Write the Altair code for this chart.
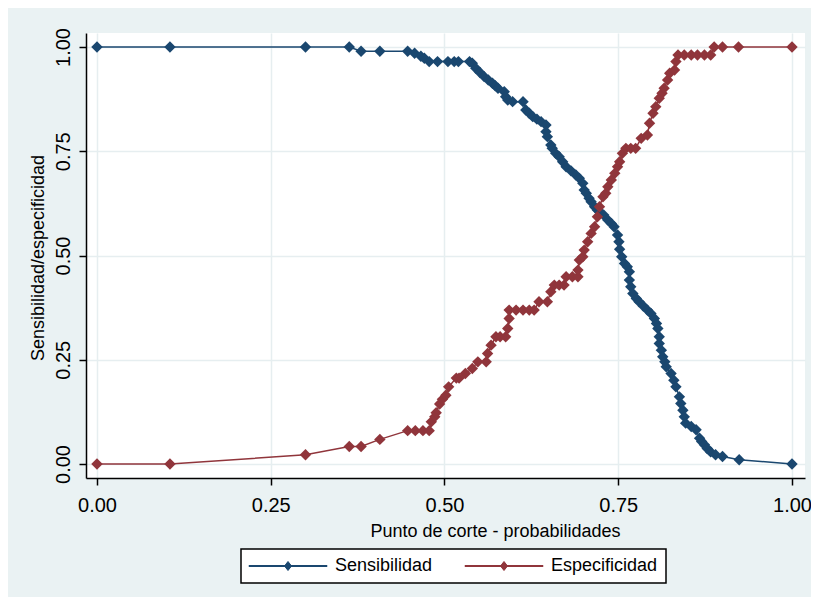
import altair as alt
import pandas as pd

# Sensibilidad: punto de corte (x) y valor (y)
sens_x = [0.000, 0.105, 0.300, 0.363, 0.380, 0.407, 0.447, 0.457, 0.466, 0.471,
          0.478, 0.490, 0.505, 0.514, 0.520, 0.536, 0.540, 0.545, 0.551, 0.557,
          0.563, 0.569, 0.573, 0.577, 0.586, 0.588, 0.591, 0.598, 0.613, 0.617,
          0.622, 0.627, 0.633, 0.639, 0.646, 0.646, 0.648, 0.653, 0.655, 0.660,
          0.665, 0.670, 0.675, 0.682, 0.689, 0.694, 0.699, 0.701, 0.704, 0.708,
          0.711, 0.716, 0.720, 0.723, 0.729, 0.735, 0.740, 0.744, 0.749, 0.751,
          0.752, 0.755, 0.759, 0.763, 0.766, 0.766, 0.768, 0.771, 0.776, 0.780,
          0.786, 0.792, 0.797, 0.802, 0.805, 0.807, 0.809, 0.809, 0.812, 0.814,
          0.817, 0.819, 0.826, 0.830, 0.833, 0.838, 0.840, 0.843, 0.845, 0.847,
          0.855, 0.862, 0.867, 0.870, 0.874, 0.878, 0.883, 0.890, 0.900, 0.924,
          1.000]
sens_y = [1.000, 1.000, 1.000, 1.000, 0.990, 0.990, 0.990, 0.985, 0.978, 0.973,
          0.965, 0.965, 0.965, 0.965, 0.965, 0.965, 0.961, 0.949, 0.939, 0.929,
          0.921, 0.913, 0.907, 0.901, 0.893, 0.881, 0.873, 0.869, 0.869, 0.849,
          0.841, 0.833, 0.827, 0.821, 0.813, 0.797, 0.785, 0.765, 0.757, 0.745,
          0.737, 0.725, 0.713, 0.703, 0.693, 0.685, 0.673, 0.657, 0.649, 0.637,
          0.629, 0.617, 0.609, 0.605, 0.597, 0.585, 0.577, 0.569, 0.549, 0.533,
          0.515, 0.497, 0.481, 0.473, 0.461, 0.441, 0.425, 0.409, 0.397, 0.389,
          0.379, 0.369, 0.361, 0.349, 0.337, 0.325, 0.305, 0.289, 0.273, 0.257,
          0.245, 0.233, 0.217, 0.201, 0.185, 0.161, 0.145, 0.129, 0.113, 0.098,
          0.090, 0.082, 0.062, 0.054, 0.046, 0.037, 0.029, 0.022, 0.018, 0.010,
          0.000]

# Especificidad
spec_x = [0.000, 0.105, 0.300, 0.363, 0.380, 0.407, 0.447, 0.458, 0.469, 0.478,
          0.481, 0.486, 0.488, 0.493, 0.497, 0.502, 0.506, 0.517, 0.521, 0.530,
          0.540, 0.548, 0.560, 0.562, 0.567, 0.574, 0.580, 0.588, 0.591, 0.593,
          0.593, 0.603, 0.613, 0.622, 0.629, 0.636, 0.648, 0.653, 0.658, 0.665,
          0.672, 0.675, 0.684, 0.692, 0.692, 0.694, 0.699, 0.701, 0.706, 0.711,
          0.716, 0.720, 0.723, 0.728, 0.732, 0.735, 0.740, 0.745, 0.749, 0.752,
          0.756, 0.761, 0.768, 0.775, 0.783, 0.792, 0.795, 0.800, 0.804, 0.809,
          0.813, 0.816, 0.821, 0.824, 0.831, 0.833, 0.836, 0.845, 0.855, 0.864,
          0.874, 0.883, 0.888, 0.900, 0.923, 1.000]
spec_y = [0.000, 0.000, 0.022, 0.042, 0.042, 0.059, 0.080, 0.080, 0.080, 0.080,
          0.101, 0.113, 0.123, 0.144, 0.155, 0.165, 0.185, 0.206, 0.206, 0.217,
          0.229, 0.245, 0.245, 0.265, 0.285, 0.305, 0.305, 0.305, 0.325, 0.349,
          0.369, 0.369, 0.369, 0.369, 0.369, 0.389, 0.389, 0.413, 0.429, 0.429,
          0.429, 0.449, 0.449, 0.449, 0.465, 0.489, 0.497, 0.513, 0.533, 0.553,
          0.569, 0.593, 0.617, 0.641, 0.649, 0.665, 0.681, 0.697, 0.713, 0.725,
          0.745, 0.757, 0.757, 0.757, 0.781, 0.789, 0.817, 0.841, 0.857, 0.877,
          0.889, 0.901, 0.921, 0.937, 0.945, 0.965, 0.981, 0.981, 0.981, 0.981,
          0.981, 0.981, 1.000, 1.000, 1.000, 1.000]

series_names = ["Sensibilidad", "Especificidad"]
series_colors = ["#1a476f", "#90353b"]
tick_values = [0.0, 0.25, 0.5, 0.75, 1.0]

rows = []
for i, (x, y) in enumerate(zip(sens_x, sens_y)):
    rows.append({"serie": series_names[0], "x": x, "y": y, "ord": i})
for i, (x, y) in enumerate(zip(spec_x, spec_y)):
    rows.append({"serie": series_names[1], "x": x, "y": y, "ord": i})
df = pd.DataFrame(rows)

FONT = "Liberation Sans, Arial, sans-serif"
PLOT_LEFT = 86  # absolute x of the plot's left edge

x_enc = alt.X(
    "x:Q",
    scale=alt.Scale(domain=[-0.0158, 1.0187], nice=False, zero=False),
    axis=alt.Axis(
        values=tick_values, format=".2f", title="Punto de corte - probabilidades",
        labelFontSize=20, labelFont=FONT, labelColor="#000000", labelPadding=10,
        labelFlush=False,
        tickSize=7, tickColor="#000000", tickWidth=1.5,
        domainColor="#000000", domainWidth=1.5,
        grid=True, gridColor="#e6eef0", gridWidth=1.5,
        titleFontSize=18, titleFont=FONT, titleFontWeight="normal", titleColor="#000000",
        titleX=495 - PLOT_LEFT, titleY=58, titleAlign="center", titleBaseline="alphabetic",
    ),
)
y_enc = alt.Y(
    "y:Q",
    scale=alt.Scale(domain=[-0.0336, 1.0336], nice=False, zero=False),
    axis=alt.Axis(
        values=tick_values, format=".2f", title="Sensibilidad/especificidad",
        labelFontSize=20, labelFont=FONT, labelColor="#000000", labelPadding=10,
        labelAngle=270, labelAlign="center", labelBaseline="alphabetic", labelFlush=False,
        tickSize=7, tickColor="#000000", tickWidth=1.5,
        domainColor="#000000", domainWidth=1.5,
        grid=True, gridColor="#e6eef0", gridWidth=1.5,
        titleFontSize=18, titleFont=FONT, titleFontWeight="normal", titleColor="#000000",
        titleAngle=270, titleX=38 - PLOT_LEFT, titleY=224.5, titleAlign="center",
        titleBaseline="middle",
    ),
)

# line segment + diamond, drawn mostly to the right of the nominal symbol box
legend_symbol = "M-1.8,-0.1H13.8V0.1H-1.8Z M5.3,0L6,-0.9L6.7,0L6,0.9Z"


def make_legend():
    return alt.Legend(
        title=None, orient="none", direction="horizontal",
        legendX=241 - PLOT_LEFT, legendY=516,
        symbolType=legend_symbol, symbolSize=100, symbolStrokeWidth=1,
        labelFontSize=18, labelFont=FONT, labelColor="#000000", labelOffset=68,
        columnPadding=30, padding=8,
        strokeColor="#000000", fillColor="#ffffff",
    )


lines = alt.Chart(df).mark_line(strokeWidth=1.5).encode(
    x=x_enc,
    y=y_enc,
    stroke=alt.Stroke("serie:N", scale=alt.Scale(domain=series_names, range=series_colors),
                      legend=make_legend()),
    order=alt.Order("ord:Q"),
)

points = alt.Chart(df).mark_point(shape="diamond", filled=True, size=130, opacity=1).encode(
    x=x_enc,
    y=y_enc,
    fill=alt.Fill(
        "serie:N",
        scale=alt.Scale(domain=series_names, range=series_colors),
        legend=make_legend(),
    ),
)

chart = (
    alt.layer(lines, points)
    .properties(
        width=719, height=445,
        padding={"left": PLOT_LEFT - 8, "top": 25, "right": 6, "bottom": 119},
        autosize="none",
        background="#eaf2f3",
    )
    .configure_view(stroke=None, fill="#ffffff")
    .configure_legend(strokeWidth=1.5)
)

chart.save("out.html", embed_options={"renderer": "svg", "actions": False})
